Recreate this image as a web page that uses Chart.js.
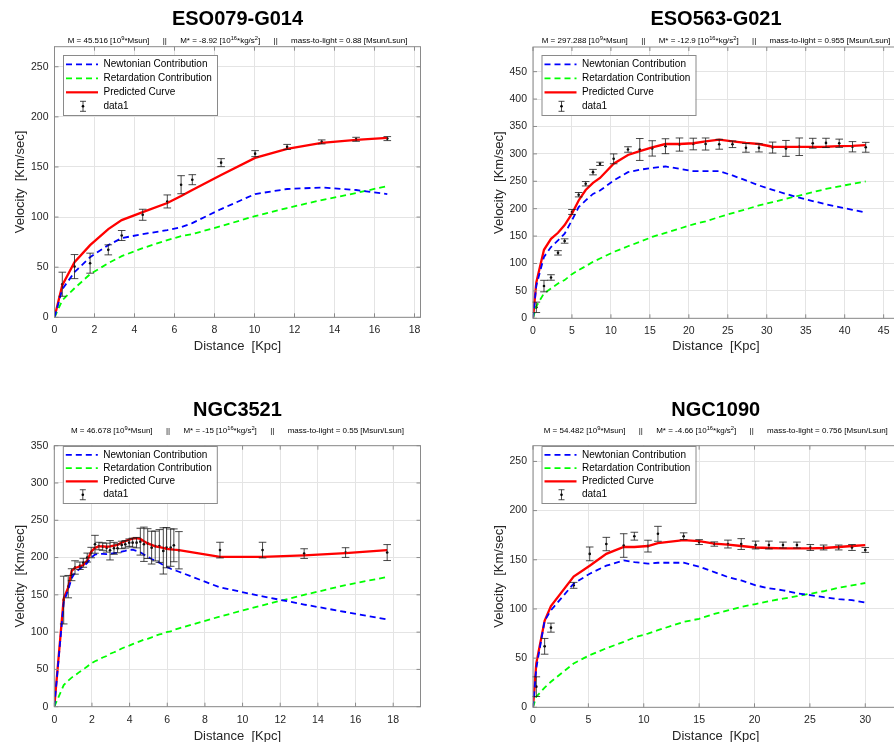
<!DOCTYPE html>
<html><head><meta charset="utf-8">
<script src="https://cdn.jsdelivr.net/npm/chart.js@4"></script>
<style>
html,body{margin:0;padding:0;background:#fff;overflow:hidden;}
#wrap{position:relative;width:894px;height:742px;overflow:hidden;background:#fff;}
canvas{position:absolute;}
</style></head><body>
<div id="wrap">
<canvas id="c1" width="447" height="371" style="left:0;top:0"></canvas>
<canvas id="c2" width="480" height="371" style="left:447px;top:0"></canvas>
<canvas id="c3" width="447" height="371" style="left:0;top:371px"></canvas>
<canvas id="c4" width="480" height="371" style="left:447px;top:371px"></canvas>
</div>
<script>
// ---------- DATA ----------
// ESO079-G014
const eso079_r    = [0.39,1.0,1.78,2.69,3.36,4.41,5.64,6.33,6.89,8.33,10.03,11.63,13.36,15.08,16.64];
const eso079_vobs = [33,50.6,54,67.3,81.6,102.3,115.6,132.3,137.3,154.3,163.3,170,175,177.6,178.3];
const eso079_err  = [12,12,10,5,5,5.5,6.5,9,5,4,3,2.5,2,2,2];
const eso079_pred = [0,32,55,72,88,97,105,114,121,127,142,159,168,174,177,179];
const eso079_newt = [0,28,45,60,72,79,83,87,90,94,108,123,128,129.5,127,123];
const eso079_ret  = [0,17,29,43,54,61,69,77,81,83,91,101,109,117,124,131];
// ESO563-G021
const eso563_r    = [0.43,1.41,2.31,3.21,4.06,5.0,5.86,6.76,7.7,8.6,10.35,12.19,13.7,15.3,17.0,18.8,20.57,22.15,23.9,25.6,27.33,29.0,30.75,32.46,34.17,35.9,37.6,39.3,41.0,42.7];
const eso563_vobs = [20,58.8,74.5,119.4,141,194,225.5,245.5,266.7,281.8,291,308,308,310,314,317,318,318,317.5,317.5,311,311,311.5,310,313,319.4,320,319.4,313,312];
const eso563_err  = [9.5,10.5,5,4,4,4.5,4,4,5,3,9,5,20,14,13.6,12,10.6,11,9,6,8,7.5,10,14.5,16,9,8.5,7.5,9.4,9];
const eso563_pred = [0,66,125,145,156,170,191,215,234,247,256,282,298,305,312,318,318,319.4,323,326,323,320,318,313,312.7,312.7,312.7,313,314,314.5,316];
const eso563_newt = [0,60,112,130,142,154.5,178.8,203,215,227,233,251.5,266.7,271,274.5,277,272.7,268.5,268.5,268.5,260.6,251.5,242.4,234.5,227,220,214,208,203,198,192.7];
const eso563_ret  = [0,22,45.5,54.5,63.6,69.7,80.6,88,95,103,109,121,131.5,139.4,148.5,155.8,163.6,171.5,177,184.8,192,198.8,206,212,218,224,230,236,240.6,245.5,249.7];
// NGC3521
const ngc3521_r    = [0.50,0.74,0.92,1.10,1.36,1.54,1.75,1.96,2.16,2.37,2.57,2.78,2.96,3.17,3.36,3.58,3.77,3.98,4.16,4.37,4.57,4.76,4.96,5.17,5.36,5.58,5.79,5.96,6.18,6.35,6.62,8.80,11.06,13.27,15.47,17.68];
const ngc3521_vobs = [143,161,177,186.7,189,193,200,206.7,217.8,215.5,214.7,213.3,209.8,212.4,212.4,216.9,217.8,220,220,220,221.3,217.8,218.7,213.3,215.5,215.5,208.9,213.3,213.3,216.4,209.8,210,210,205.3,206.7,206.7];
const ngc3521_err  = [32,15,8,9,5,6,6,7,12,5,5,6,13,8,6,5,5,5,6,7,18,23,20,22,20,22,31,27,25,22,25,10.5,10.5,6.5,6.5,10.7];
const ngc3521_pred = [0,145,160,182,186,188,190,196,208,213,215,215,214.5,215,216,217,220,222,224,225.5,226,225,222,219,217,215,214,213,211.5,211,210.5,210,201,201,203,206,210];
const ngc3521_newt = [0,140,157,172,180,185,188,193,200,204,205,205,204.5,205,206,206.5,208,209,210.5,210.5,209,207,204,201,198,196,193,190,187.5,185,183.5,181,160,148,137,127,117];
const ngc3521_ret  = [0,29,35,39,42,47,50,54,58,61,63,66,68,71,73,75,78,80,82,84,86,88,90,91,93,95,97,98,100,101,103,105,121,136,150,163,174];
// NGC1090
const ngc1090_r    = [0.3,1.05,1.62,3.67,5.12,6.62,8.19,9.15,10.38,11.28,13.6,15.0,16.37,17.6,18.8,20.1,21.3,22.57,23.83,25.04,26.24,27.6,28.8,30.0];
const ngc1090_vobs = [21,62,81,124,156,166,164.5,174,163.9,176.4,174,168,166,166,166,165,165,165,165,162.5,162.5,162.5,162.5,160];
const ngc1090_err  = [10,8,4.6,3,7,6.8,12,4,6,7.6,3.4,2.5,2.2,4,5.5,4,4,3,3,3,2.5,2.5,3,2.5];
const ngc1090_pred = [0,45,88,103,133,144,156,163,163,164,167,170,169,166.5,165.5,164,162.5,162,161.5,161.5,161.5,162,163,164,165];
const ngc1090_newt = [0,40,88,98.6,125.7,135.8,144,149.3,147.6,146,147,147,143,137.5,132.4,129,124,121,119,116,114,112,110,109,106.4];
const ngc1090_ret  = [0,10.8,20,26,44.6,53,60,66.5,71,75,78.4,86.8,90,95,98.6,102,105,108,110.5,113,115.5,118,121.6,124,126.4];

const titles = ['ESO079-G014','ESO563-G021','NGC3521','NGC1090'];
const massM  = ['45.516','297.288','46.678','54.482'];
const massMstar = ['-8.92','-12.9','-15','-4.66'];
const massToLight = ['0.88','0.955','0.55','0.756'];
const legendLabels = ['Newtonian Contribution','Retardation Contribution','Predicted Curve','data1'];
const xLabel = 'Distance  [Kpc]';
const yLabel = 'Velocity  [Km/sec]';

// ---------- LAYOUT ----------
const FONT = '"Liberation Sans", Arial, Helvetica, sans-serif';
const XH = 25;
const panels = [
 {id:'c1', w:447, h:371, a:{l:54.5,r:420.5,t:46.7,b:317.3}, xmax:18.3, xstep:2, ymax:270, ystep:50,
  titleY:19.5, subY:41, xlabY:346.7, ylabX:20.5, legTop:55, legH:60,
  r:eso079_r, v:eso079_vobs, e:eso079_err, pred:eso079_pred, newt:eso079_newt, ret:eso079_ret},
 {id:'c2', w:480, h:371, a:{l:86,r:452,t:47,b:318.3}, xmax:46.97, xstep:5, ymax:495, ystep:50,
  titleY:19.5, subY:41, xlabY:346.7, ylabX:52.5, legTop:55, legH:60,
  r:eso563_r, v:eso563_vobs, e:eso563_err, pred:eso563_pred, newt:eso563_newt, ret:eso563_ret},
 {id:'c3', w:447, h:371, a:{l:54.3,r:420.5,t:74.7,b:335.7}, xmax:19.45, xstep:2, ymax:350, ystep:50,
  titleY:39, subY:60, xlabY:365, ylabX:20.5, legTop:75, legH:57,
  r:ngc3521_r, v:ngc3521_vobs, e:ngc3521_err, pred:ngc3521_pred, newt:ngc3521_newt, ret:ngc3521_ret},
 {id:'c4', w:480, h:371, a:{l:86,r:451.5,t:74.7,b:336.3}, xmax:33, xstep:5, ymax:266, ystep:50,
  titleY:39, subY:60, xlabY:365, ylabX:52.5, legTop:75, legH:57,
  r:ngc1090_r, v:ngc1090_vobs, e:ngc1090_err, pred:ngc1090_pred, newt:ngc1090_newt, ret:ngc1090_ret}
];
const byId = {};
panels.forEach((p,i)=>{p.idx=i; byId[p.id]=p;});

const SEP = '      ||      ';
function subParts(i){
  return ['M = '+massM[i]+' [10','^9','*Msun]',SEP,'M* = '+massMstar[i]+' [10','^16','*kg/s','^2',']',SEP,
          'mass-to-light = '+massToLight[i]+' [Msun/Lsun]'];
}
function drawRich(ctx, parts, cx, cy, size){
  const f = size+'px '+FONT, fs = (size*0.72)+'px '+FONT;
  let w = 0;
  parts.forEach(t=>{ ctx.font = t[0]==='^'?fs:f; w += ctx.measureText(t[0]==='^'?t.slice(1):t).width; });
  let x = cx - w/2;
  ctx.textAlign='left'; ctx.textBaseline='middle'; ctx.fillStyle='#000';
  parts.forEach(t=>{
    const sup = t[0]==='^'; const s = sup?t.slice(1):t;
    ctx.font = sup?fs:f;
    ctx.fillText(s, x, sup?cy-3:cy);
    x += ctx.measureText(s).width;
  });
}

const COLORS = {newt:'#0000ff', ret:'#00ff00', pred:'#ff0000', frame:'#8a8a8a', grid:'#e4e4e4', text:'#262626'};

const deco = {
  id:'deco',
  beforeDraw(chart){
    const c = chart.ctx; c.save(); c.fillStyle='#fff'; c.fillRect(0,0,chart.width,chart.height); c.restore();
  },
  afterDatasetsDraw(chart){
    const P = byId[chart.canvas.id]; const c = chart.ctx;
    const xs = chart.scales.x, ys = chart.scales.y;
    c.save(); c.strokeStyle='#1a1a1a'; c.lineWidth=0.8;
    P.r.forEach((x,i)=>{
      const px = xs.getPixelForValue(x);
      const y1 = ys.getPixelForValue(P.v[i]+P.e[i]);
      const y2 = ys.getPixelForValue(P.v[i]-P.e[i]);
      c.beginPath();
      c.moveTo(px,y1); c.lineTo(px,y2);
      c.moveTo(px-3.8,y1); c.lineTo(px+3.8,y1);
      c.moveTo(px-3.8,y2); c.lineTo(px+3.8,y2);
      c.stroke();
    });
    c.restore();
  },
  afterDraw(chart){
    const P = byId[chart.canvas.id]; const c = chart.ctx; const a = chart.chartArea;
    const xs = chart.scales.x, ys = chart.scales.y;
    c.save();
    // frame
    c.strokeStyle = COLORS.frame; c.lineWidth = 1;
    c.strokeRect(a.left, a.top, a.right-a.left, a.bottom-a.top);
    // inward ticks
    c.beginPath();
    xs.ticks.forEach(t=>{ const px = xs.getPixelForValue(t.value);
      c.moveTo(px,a.bottom); c.lineTo(px,a.bottom-4); c.moveTo(px,a.top); c.lineTo(px,a.top+4); });
    ys.ticks.forEach(t=>{ const py = ys.getPixelForValue(t.value);
      c.moveTo(a.left,py); c.lineTo(a.left+4,py); c.moveTo(a.right,py); c.lineTo(a.right-4,py); });
    c.stroke();
    // axis labels
    c.fillStyle = COLORS.text; c.font = '13px '+FONT; c.textAlign='center'; c.textBaseline='middle';
    c.fillText(xLabel, (a.left+a.right)/2, P.xlabY);
    c.save(); c.translate(P.ylabX, (a.top+a.bottom)/2); c.rotate(-Math.PI/2);
    c.fillText(yLabel, 0, 0); c.restore();
    // title
    c.fillStyle='#000'; c.font = 'bold 20px '+FONT;
    c.fillText(titles[P.idx], (a.left+a.right)/2, P.titleY);
    drawRich(c, subParts(P.idx), (a.left+a.right)/2, P.subY, 8);
    // legend
    const L = a.left+8.5, T = P.legTop, W = 154, H = P.legH;
    c.fillStyle='#fff'; c.fillRect(L,T,W,H);
    c.strokeStyle='#8a8a8a'; c.lineWidth=1; c.strokeRect(L+0.5,T+0.5,W,H);
    const step = (H-10)/3.6;
    const rows = [T+H*0.155, T+H*0.388, T+H*0.622, T+H*0.855];
    const styles = [[COLORS.newt,[6,4],1.8],[COLORS.ret,[6,4],1.8],[COLORS.pred,[],2.2]];
    styles.forEach((s,i)=>{
      c.strokeStyle=s[0]; c.setLineDash(s[1]); c.lineWidth=s[2];
      c.beginPath(); c.moveTo(L+3,rows[i]); c.lineTo(L+35,rows[i]); c.stroke();
    });
    c.setLineDash([]);
    const ex = L+20, ey = rows[3];
    c.strokeStyle='#1a1a1a'; c.lineWidth=0.8; c.beginPath();
    c.moveTo(ex,ey-5); c.lineTo(ex,ey+5); c.moveTo(ex-3,ey-5); c.lineTo(ex+3,ey-5); c.moveTo(ex-3,ey+5); c.lineTo(ex+3,ey+5);
    c.stroke();
    c.fillStyle='#000'; c.beginPath(); c.arc(ex,ey,1.3,0,Math.PI*2); c.fill();
    c.font = '10px '+FONT; c.textAlign='left'; c.textBaseline='middle'; c.fillStyle='#000';
    legendLabels.forEach((t,i)=> c.fillText(t, L+40.5, rows[i]));
    c.restore();
  }
};

panels.forEach(P=>{
  const cr = [0].concat(P.r);
  const pts = arr => cr.map((x,i)=>({x, y:arr[i]}));
  new Chart(document.getElementById(P.id), {
    type:'scatter',
    data:{datasets:[
      {label:legendLabels[0], data:pts(P.newt), showLine:true, borderColor:COLORS.newt, borderWidth:1.8, borderDash:[6,4], pointRadius:0, tension:0},
      {label:legendLabels[1], data:pts(P.ret), showLine:true, borderColor:COLORS.ret, borderWidth:1.8, borderDash:[6,4], pointRadius:0, tension:0},
      {label:legendLabels[2], data:pts(P.pred), showLine:true, borderColor:COLORS.pred, borderWidth:2.3, pointRadius:0, tension:0},
      {label:legendLabels[3], data:P.r.map((x,i)=>({x, y:P.v[i]})), showLine:false, pointRadius:1.3, pointBackgroundColor:'#000', pointBorderWidth:0}
    ]},
    options:{
      responsive:false, animation:false, devicePixelRatio:1,
      layout:{padding:{left:0, top:P.a.t, right:P.w-P.a.r, bottom:P.h-P.a.b-XH}},
      plugins:{legend:{display:false}, tooltip:{enabled:false}},
      scales:{
        x:{type:'linear', min:0, max:P.xmax,
           ticks:{stepSize:P.xstep, includeBounds:false, autoSkip:false, maxRotation:0, padding:7, color:COLORS.text, font:{family:FONT, size:10.5}},
           grid:{color:COLORS.grid, drawTicks:false}, border:{display:false},
           afterFit(s){ s.height = XH; }},
        y:{type:'linear', min:0, max:P.ymax,
           ticks:{stepSize:P.ystep, includeBounds:false, autoSkip:false, padding:6, color:COLORS.text, font:{family:FONT, size:10.5}},
           grid:{color:COLORS.grid, drawTicks:false}, border:{display:false},
           afterFit(s){ s.width = P.a.l; }}
      }
    },
    plugins:[deco]
  });
});
</script>
</body></html>
